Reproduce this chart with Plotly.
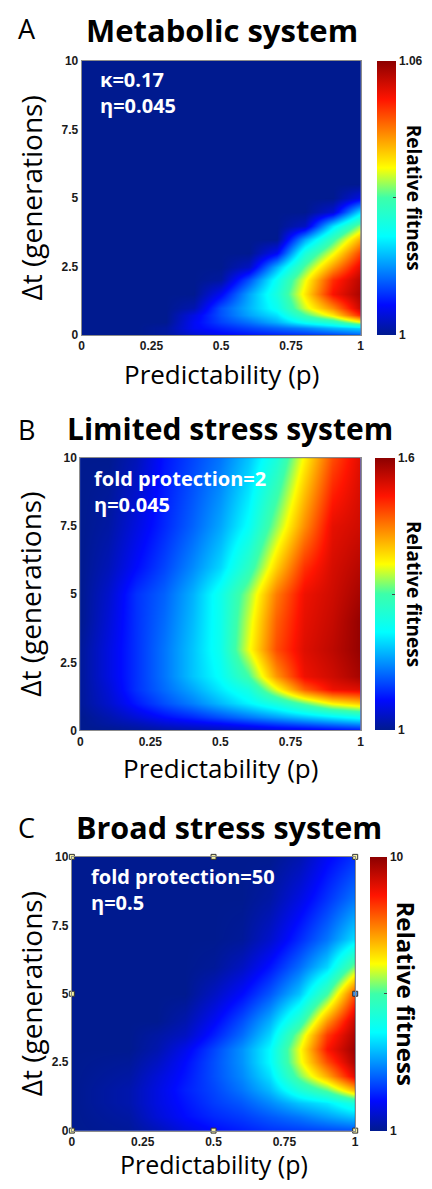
import plotly.graph_objects as go

W, H = 432, 1189

# ---------------- data ----------------
tick_p = [0, 0.25, 0.5, 0.75, 1]
tick_p_text = ["0", "0.25", "0.5", "0.75", "1"]
tick_dt = [0, 2.5, 5, 7.5, 10]
tick_dt_text = ["0", "2.5", "5", "7.5", "10"]

# Panel A: Metabolic system (relative fitness 1 .. 1.06)
a_p = [0, 0.2, 0.3, 0.4, 0.5, 0.6, 0.7, 0.8, 0.9, 1.0]
a_dt = [0, 0.25, 0.5, 0.75, 1, 1.5, 2, 2.5, 3, 3.5, 4, 4.5, 5, 5.5, 6, 7, 10]
a_fit = [
    [1.000, 1.000, 1.001, 1.004, 1.006, 1.007, 1.008, 1.009, 1.010, 1.012],
    [1.000, 1.000, 1.001, 1.006, 1.008, 1.010, 1.012, 1.014, 1.017, 1.019],
    [1.000, 1.000, 1.000, 1.006, 1.010, 1.013, 1.017, 1.023, 1.027, 1.036],
    [1.000, 1.000, 1.000, 1.005, 1.011, 1.016, 1.020, 1.030, 1.038, 1.051],
    [1.000, 1.000, 1.000, 1.002, 1.011, 1.017, 1.023, 1.035, 1.044, 1.056],
    [1.000, 1.000, 1.000, 1.000, 1.006, 1.016, 1.025, 1.038, 1.052, 1.058],
    [1.000, 1.000, 1.000, 1.000, 1.001, 1.011, 1.023, 1.036, 1.050, 1.057],
    [1.000, 1.000, 1.000, 1.000, 1.000, 1.003, 1.017, 1.031, 1.043, 1.054],
    [1.000, 1.000, 1.000, 1.000, 1.000, 1.000, 1.006, 1.025, 1.036, 1.049],
    [1.000, 1.000, 1.000, 1.000, 1.000, 1.000, 1.000, 1.016, 1.029, 1.042],
    [1.000, 1.000, 1.000, 1.000, 1.000, 1.000, 1.000, 1.003, 1.020, 1.033],
    [1.000, 1.000, 1.000, 1.000, 1.000, 1.000, 1.000, 1.000, 1.004, 1.020],
    [1.000, 1.000, 1.000, 1.000, 1.000, 1.000, 1.000, 1.000, 1.000, 1.005],
    [1.000, 1.000, 1.000, 1.000, 1.000, 1.000, 1.000, 1.000, 1.000, 1.000],
    [1.000, 1.000, 1.000, 1.000, 1.000, 1.000, 1.000, 1.000, 1.000, 1.000],
    [1.000, 1.000, 1.000, 1.000, 1.000, 1.000, 1.000, 1.000, 1.000, 1.000],
    [1.000, 1.000, 1.000, 1.000, 1.000, 1.000, 1.000, 1.000, 1.000, 1.000],
]
a_range = [1.0, 1.06]
a_cbar_text = ["1", "", "1.06"]

# Panel B: Limited stress system (relative fitness 1 .. 1.6)
b_p = [0, 0.1, 0.2, 0.3, 0.4, 0.5, 0.6, 0.7, 0.8, 0.9, 1.0]
b_dt = [0, 0.25, 0.5, 1, 1.5, 2, 3, 4, 5, 6, 7.5, 10]
b_fit = [
    [1.000, 1.000, 1.006, 1.012, 1.018, 1.024, 1.030, 1.042, 1.048, 1.060, 1.072],
    [1.000, 1.012, 1.024, 1.042, 1.054, 1.066, 1.084, 1.102, 1.120, 1.138, 1.156],
    [1.000, 1.018, 1.042, 1.066, 1.084, 1.108, 1.132, 1.156, 1.180, 1.204, 1.228],
    [1.006, 1.036, 1.075, 1.108, 1.138, 1.174, 1.210, 1.252, 1.312, 1.372, 1.402],
    [1.006, 1.042, 1.090, 1.126, 1.162, 1.204, 1.246, 1.360, 1.468, 1.528, 1.540],
    [1.006, 1.048, 1.090, 1.132, 1.180, 1.222, 1.300, 1.432, 1.528, 1.552, 1.582],
    [1.006, 1.048, 1.090, 1.132, 1.180, 1.234, 1.360, 1.480, 1.540, 1.564, 1.594],
    [1.000, 1.042, 1.090, 1.126, 1.174, 1.234, 1.348, 1.468, 1.534, 1.558, 1.594],
    [1.000, 1.036, 1.090, 1.120, 1.168, 1.234, 1.330, 1.450, 1.528, 1.552, 1.582],
    [1.000, 1.024, 1.066, 1.102, 1.144, 1.192, 1.276, 1.396, 1.498, 1.546, 1.570],
    [1.000, 1.012, 1.048, 1.084, 1.120, 1.162, 1.222, 1.330, 1.438, 1.534, 1.552],
    [1.000, 1.000, 1.024, 1.072, 1.102, 1.132, 1.180, 1.252, 1.372, 1.480, 1.540],
]
b_range = [1.0, 1.6]
b_cbar_text = ["1", "", "1.6"]

# Panel C: Broad stress system (relative fitness 1 .. 10)
c_p = [0, 0.2, 0.3, 0.4, 0.5, 0.6, 0.7, 0.8, 0.9, 1.0]
c_dt = [0, 0.5, 1, 1.5, 2, 2.5, 3, 3.5, 4, 5, 6, 7, 8.5, 10]
c_fit = [
    [1.00, 1.09, 1.36, 1.72, 1.99, 2.17, 2.35, 2.44, 2.53, 2.62],
    [1.00, 1.18, 1.63, 1.99, 2.26, 2.44, 2.71, 2.98, 3.34, 3.70],
    [1.00, 1.27, 1.72, 2.08, 2.44, 2.71, 3.16, 3.70, 4.06, 4.78],
    [1.00, 1.27, 1.72, 2.17, 2.53, 2.98, 3.61, 4.78, 5.68, 7.21],
    [1.00, 1.18, 1.63, 2.08, 2.62, 3.16, 3.97, 5.77, 7.30, 9.10],
    [1.00, 1.09, 1.45, 1.99, 2.62, 3.25, 4.24, 6.31, 8.20, 9.64],
    [1.00, 1.00, 1.27, 1.81, 2.53, 3.25, 4.24, 6.40, 8.74, 9.82],
    [1.00, 1.00, 1.18, 1.45, 2.17, 2.89, 3.88, 5.95, 8.38, 9.64],
    [1.00, 1.00, 1.00, 1.27, 1.90, 2.62, 3.52, 5.05, 7.48, 9.37],
    [1.00, 1.00, 1.00, 1.00, 1.45, 1.99, 2.71, 3.70, 5.50, 8.20],
    [1.00, 1.00, 1.00, 1.00, 1.09, 1.45, 2.08, 2.89, 3.88, 5.86],
    [1.00, 1.00, 1.00, 1.00, 1.00, 1.09, 1.54, 2.26, 2.98, 3.97],
    [1.00, 1.00, 1.00, 1.00, 1.00, 1.00, 1.18, 1.72, 2.35, 2.98],
    [1.00, 1.00, 1.00, 1.00, 1.00, 1.00, 1.00, 1.27, 1.90, 2.35],
]
c_range = [1.0, 10.0]
c_cbar_text = ["1", "", "10"]

# selection-handle squares visible on panel C
c_handle_p = [0, 0.5, 1, 0, 1, 0, 0.5, 1]
c_handle_dt = [0, 0, 0, 5, 5, 10, 10, 10]
c_handle_col = ["#f3efa2", "#f3efa2", "#f3efa2", "#f3efa2", "#3d8fe6",
                "#f3efa2", "#f3efa2", "#f3efa2"]

panel_titles = ["Metabolic system", "Limited stress system", "Broad stress system"]
panel_letters = ["A", "B", "C"]
panel_notes = ["κ=0.17<br>η=0.045", "fold protection=2<br>η=0.045",
               "fold protection=50<br>η=0.5"]
x_title = "Predictability (p)"
y_title = "Δt (generations)"
cbar_title = "Relative fitness"

# ---------------- styling / layout ----------------
jet = [
    [0.0, "rgb(0,26,143)"],
    [0.11, "rgb(0,10,255)"],
    [0.36, "rgb(0,255,255)"],
    [0.5, "rgb(60,255,170)"],
    [0.61, "rgb(255,255,0)"],
    [0.86, "rgb(255,20,0)"],
    [1.0, "rgb(140,0,0)"],
]


def px(x):
    return x / W


def py(y):
    return 1 - y / H


boxes = [
    dict(l=80, r=363.5, t=54.5, b=332, cbl=380, cbt=19, tsize=31, title_x=223, title_y=23,
         letter_y=22, note_x=97, note_y=87, cb_tx=418, cb_ts=19, xt_y=371, xt_s=26),
    dict(l=78.5, r=363.5, t=456.5, b=732, cbl=378, cbt=20, tsize=30, title_x=231, title_y=427,
         letter_y=428, note_x=90, note_y=490, cb_tx=418, cb_ts=19, xt_y=770, xt_s=26),
    dict(l=70, r=358, t=860, b=1137, cbl=373, cbt=17, tsize=30.5, title_x=229.5, title_y=830,
         letter_y=830, note_x=87, note_y=893.5, cb_tx=410, cb_ts=24, xt_y=1171, xt_s=25),
]

fig = go.Figure()
data_sets = [(a_p, a_dt, a_fit, a_range, a_cbar_text),
             (b_p, b_dt, b_fit, b_range, b_cbar_text),
             (c_p, c_dt, c_fit, c_range, c_cbar_text)]

tickfont = dict(family="Liberation Sans", size=12, color="#1a1a1a", weight="bold")
annotations = []
for i, ((xp, ydt, z, zr, cbt), bx) in enumerate(zip(data_sets, boxes)):
    sfx = "" if i == 0 else str(i + 1)
    mid = (zr[0] + zr[1]) / 2
    fig.add_trace(go.Heatmap(
        x=xp, y=ydt, z=z, zmin=zr[0], zmax=zr[1], zsmooth="best",
        colorscale=jet, xaxis="x" + sfx, yaxis="y" + sfx,
        colorbar=dict(
            x=px(bx["cbl"]), xanchor="left", xpad=0, ypad=0,
            y=py((bx["t"] + bx["b"]) / 2), yanchor="middle",
            len=(bx["b"] - bx["t"]) / H, lenmode="fraction",
            thickness=bx["cbt"], thicknessmode="pixels", outlinewidth=0,
            tickvals=[zr[0], mid, zr[1]], ticktext=cbt,
            ticks="inside", ticklen=3, tickcolor="#444",
            tickfont=tickfont,
        ),
        hoverinfo="skip",
    ))
    ax = dict(
        domain=[px(bx["l"]), px(bx["r"])], range=[0, 1],
        tickvals=tick_p, ticktext=tick_p_text, tickfont=tickfont,
        showgrid=False, zeroline=False, showline=True, linecolor="#8c8c8c",
        linewidth=1, mirror=True, ticks="", anchor="y" + sfx,
    )
    ay = dict(
        domain=[py(bx["b"]), py(bx["t"])], range=[0, 10],
        tickvals=tick_dt, ticktext=tick_dt_text, tickfont=tickfont,
        showgrid=False, zeroline=False, showline=True, linecolor="#8c8c8c",
        linewidth=1, mirror=True, ticks="", anchor="x" + sfx,
    )
    fig.update_layout(**{"xaxis" + sfx: ax, "yaxis" + sfx: ay})

    annotations.append(dict(
        x=px(bx["title_x"]), y=py(bx["title_y"]), xref="paper", yref="paper",
        text=panel_titles[i], showarrow=False, xanchor="center", yanchor="middle",
        font=dict(family="Open Sans", size=bx["tsize"], color="black", weight="bold")))
    annotations.append(dict(
        x=px(24), y=py(bx["letter_y"]), xref="paper", yref="paper",
        text=panel_letters[i], showarrow=False, xanchor="center", yanchor="middle",
        font=dict(family="Open Sans", size=27, color="black")))
    annotations.append(dict(
        x=px(bx["note_x"]), y=py(bx["note_y"]), xref="paper", yref="paper",
        text=panel_notes[i], showarrow=False, xanchor="left", yanchor="middle", align="left",
        font=dict(family="Open Sans", size=20, color="white", weight="bold")))
    annotations.append(dict(
        x=px((bx["l"] + bx["r"]) / 2), y=py(bx["xt_y"]), xref="paper", yref="paper",
        text=x_title, showarrow=False, xanchor="center", yanchor="middle",
        font=dict(family="Open Sans", size=bx["xt_s"], color="black")))
    annotations.append(dict(
        x=px(28), y=py((bx["t"] + bx["b"]) / 2), xref="paper", yref="paper",
        text=y_title, showarrow=False, xanchor="center", yanchor="middle", textangle=-90,
        font=dict(family="Open Sans", size=28, color="black")))
    annotations.append(dict(
        x=px(bx["cb_tx"]), y=py((bx["t"] + bx["b"]) / 2), xref="paper", yref="paper",
        text=cbar_title, showarrow=False, xanchor="center", yanchor="middle", textangle=90,
        font=dict(family="Open Sans", size=bx["cb_ts"], color="black", weight="bold")))

fig.add_trace(go.Scatter(
    x=c_handle_p, y=c_handle_dt, mode="markers", xaxis="x3", yaxis="y3",
    marker=dict(symbol="square", size=5, color=c_handle_col,
                line=dict(width=1, color="#333")),
    cliponaxis=False, showlegend=False, hoverinfo="skip",
))

fig.update_layout(
    width=W, height=H, margin=dict(l=0, r=0, t=0, b=0),
    paper_bgcolor="white", plot_bgcolor="rgb(0,26,143)",
    showlegend=False, annotations=annotations,
)

fig.write_html("out.html", config={"displayModeBar": False},
               post_script="document.body.style.margin='0px';document.body.style.padding='0px';")
